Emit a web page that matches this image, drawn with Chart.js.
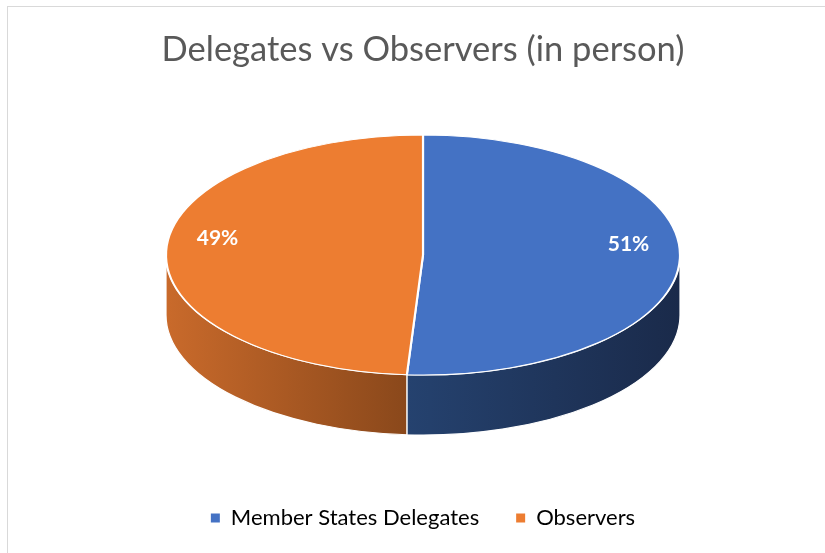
<!DOCTYPE html>
<html>
<head>
<meta charset="utf-8">
<script src="https://cdn.jsdelivr.net/npm/chart.js@4.4.1/dist/chart.umd.min.js"></script>
<style>
html, body { margin: 0; padding: 0; background: #fff; overflow: hidden; }
#frame { position: absolute; left: 7px; top: 6px; width: 900px; height: 700px; border: 1px solid #d9d9d9; box-sizing: border-box; }
#wrap { position: absolute; left: 0; top: 0; width: 825px; height: 553px; }
</style>
</head>
<body>
<div id="frame"></div>
<div id="wrap"><canvas id="delegates" width="825" height="553"></canvas></div>
<script>
var labels = ['Member States Delegates', 'Observers'];
var shares = [51, 49];
var colors = ['#4472C4', '#ED7D31'];
// side wall gradient, light -> dark (left to right)
var sideColors = [['#25426F', '#1A2A4A'], ['#C96A2B', '#8A481B']];

// squash the flat pie into an ellipse and give it a thickness
var tilt3d = {
    id: 'tilt3d',
    beforeDatasetsDraw: function (chart, args, opts) {
        var arcs = chart.getDatasetMeta(0).data;
        if (!arcs.length) return;
        var ctx = chart.ctx;
        var a0 = arcs[0];
        var cx = a0.x, cy = opts.centerY, r = a0.outerRadius;
        var rx = opts.rx, ry = opts.ry, d = opts.depth;

        arcs.forEach(function (arc, i) {
            var s = arc.startAngle, e = arc.endAngle;
            for (var k = -1; k <= 1; k++) {
                var lo = k * 2 * Math.PI, hi = lo + Math.PI;
                var p = Math.max(s, lo), q = Math.min(e, hi);
                if (q <= p) continue;
                var xMax = cx + rx * Math.cos(p), xMin = cx + rx * Math.cos(q);
                var grad = ctx.createLinearGradient(xMin, 0, xMax, 0);
                grad.addColorStop(0, sideColors[i][0]);
                grad.addColorStop(1, sideColors[i][1]);
                ctx.beginPath();
                ctx.ellipse(cx, cy, rx, ry, 0, p, q, false);
                ctx.ellipse(cx, cy + d, rx, ry, 0, q, p, true);
                ctx.closePath();
                ctx.fillStyle = grad;
                ctx.fill();
                ctx.strokeStyle = '#ffffff';
                ctx.lineWidth = 1.2;
                ctx.stroke();
            }
        });

        ctx.save();
        ctx.translate(cx, cy);
        ctx.scale(rx / r, ry / r);
        ctx.translate(-a0.x, -a0.y);
    },
    afterDatasetsDraw: function (chart, args, opts) {
        var arcs = chart.getDatasetMeta(0).data;
        if (!arcs.length) return;
        var ctx = chart.ctx;
        ctx.restore();
        var cx = arcs[0].x, cy = opts.centerY;
        var total = shares.reduce(function (a, b) { return a + b; }, 0);
        ctx.save();
        ctx.fillStyle = '#ffffff';
        ctx.font = 'bold 21px Lato';
        ctx.textAlign = 'center';
        ctx.textBaseline = 'middle';
        arcs.forEach(function (arc, i) {
            var mid = (arc.startAngle + arc.endAngle) / 2;
            var x = cx + opts.rx * opts.labelRadius * Math.cos(mid);
            var y = cy + opts.ry * opts.labelRadius * Math.sin(mid) + opts.labelShiftY;
            ctx.fillText(Math.round(shares[i] / total * 100) + '%', x, y);
        });
        ctx.restore();
    }
};

var delegates = document.getElementById('delegates');
var dChart = new Chart(delegates, {
    type: 'pie',
    data: {
        labels: labels,
        datasets: [{
            data: shares,
            backgroundColor: colors,
            borderColor: '#ffffff',
            borderWidth: 1.6,
            clip: false
        }]
    },
    plugins: [tilt3d],
    options: {
        responsive: false,
        animation: false,
        devicePixelRatio: 1,
        layout: {
            padding: { left: 21, right: 0, top: 0, bottom: 14 }
        },
        plugins: {
            tilt3d: {
                centerY: 255,
                rx: 257,
                ry: 120,
                depth: 60,
                labelRadius: 0.8,
                labelShiftY: -14
            },
            title: {
                display: true,
                text: 'Delegates vs Observers (in person)',
                color: '#595959',
                font: { family: 'Lato', size: 34.5, weight: 'normal' },
                padding: { top: 29, bottom: 20 }
            },
            legend: {
                position: 'bottom',
                labels: {
                    color: '#595959',
                    font: { family: 'Lato', size: 22 },
                    boxWidth: 9,
                    boxHeight: 9,
                    padding: 37,
                    generateLabels: function (chart) {
                        return labels.map(function (l, i) {
                            return { text: l, fillStyle: colors[i], strokeStyle: colors[i], lineWidth: 0, index: i, hidden: false };
                        });
                    }
                }
            },
            tooltip: { enabled: false }
        }
    }
});
</script>
</body>
</html>
